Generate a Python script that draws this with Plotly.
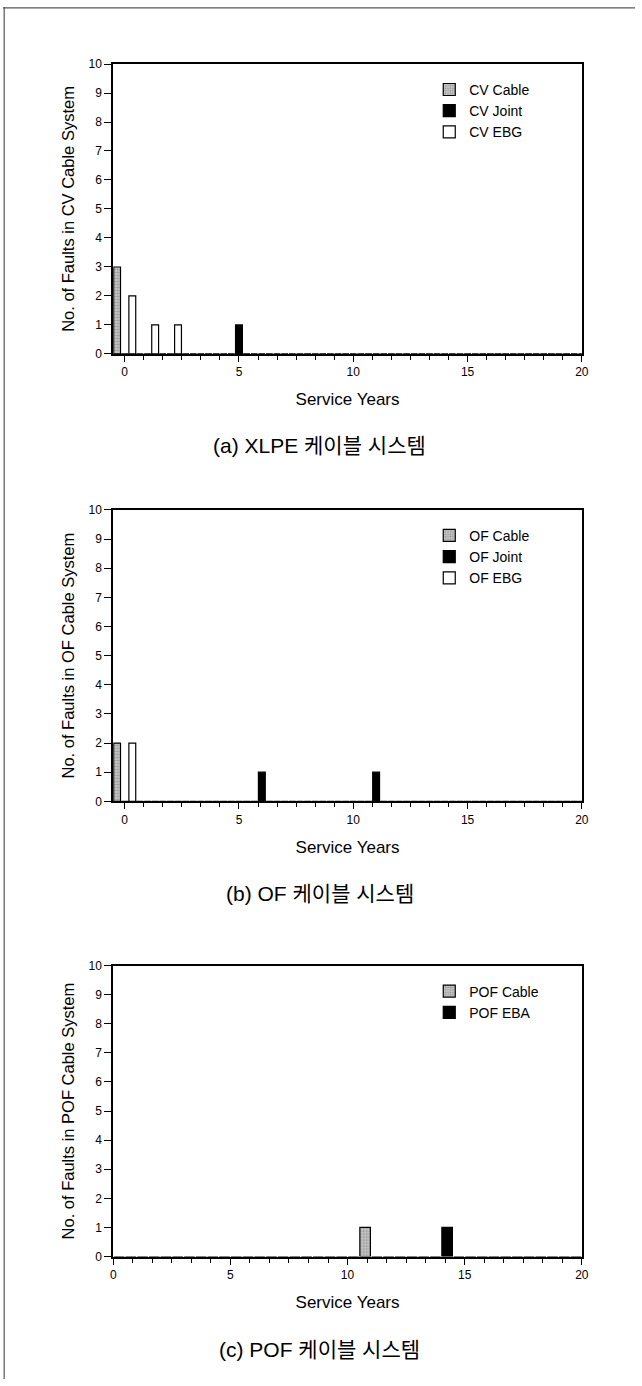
import plotly.graph_objects as go

# ---------------- data ----------------
years = list(range(0, 21))

cv_cable = [3, 0, 0, 0, 0, 0, 0, 0, 0, 0, 0, 0, 0, 0, 0, 0, 0, 0, 0, 0, 0]
cv_joint = [0, 0, 0, 0, 0, 1, 0, 0, 0, 0, 0, 0, 0, 0, 0, 0, 0, 0, 0, 0, 0]
cv_ebg = [2, 1, 1, 0, 0, 0, 0, 0, 0, 0, 0, 0, 0, 0, 0, 0, 0, 0, 0, 0, 0]

of_cable = [2, 0, 0, 0, 0, 0, 0, 0, 0, 0, 0, 0, 0, 0, 0, 0, 0, 0, 0, 0, 0]
of_joint = [0, 0, 0, 0, 0, 0, 1, 0, 0, 0, 0, 1, 0, 0, 0, 0, 0, 0, 0, 0, 0]
of_ebg = [2, 0, 0, 0, 0, 0, 0, 0, 0, 0, 0, 0, 0, 0, 0, 0, 0, 0, 0, 0, 0]

pof_cable = [0, 0, 0, 0, 0, 0, 0, 0, 0, 0, 0, 1, 0, 0, 0, 0, 0, 0, 0, 0, 0]
pof_eba = [0, 0, 0, 0, 0, 0, 0, 0, 0, 0, 0, 0, 0, 0, 1, 0, 0, 0, 0, 0, 0]

x_major_ticks = [0, 5, 10, 15, 20]
y_ticks = [0, 1, 2, 3, 4, 5, 6, 7, 8, 9, 10]

names_a = ["CV Cable", "CV Joint", "CV EBG"]
names_b = ["OF Cable", "OF Joint", "OF EBG"]
names_c = ["POF Cable", "POF EBA"]

ytitles = ["No. of Faults in CV Cable System",
           "No. of Faults in OF Cable System",
           "No. of Faults in POF Cable System"]
captions = ["(a) XLPE 케이블 시스템", "(b) OF 케이블 시스템", "(c) POF 케이블 시스템"]
xtitle = "Service Years"

# ---------------- layout helpers ----------------
W, H = 642, 1386
FONT = "Liberation Sans, Arial, Helvetica, sans-serif"
KFONT = "Liberation Sans, Noto Sans CJK KR, sans-serif"


def py(v):
    return 1 - v / H


x_dom = [112.0 / W, 588.0 / W]
panels = [  # (top px, bottom px)
    (57.6, 350.5),
    (508.1, 802.4),
    (968.4, 1262.3),
]
caption_y = [443.0, 895.5, 1356.0]
x_ranges = [[-0.5, 20], [-0.5, 20], [0, 20]]
minor_vals = [i * 5 / 6 for i in range(1, 24) if i % 6 != 0]

CABLE = dict(color="#c4c4c4", line=dict(color="black", width=1.2),
             pattern=dict(shape=".", fgcolor="#555555", bgcolor="#c8c8c8", size=3, solidity=0.35))
JOINT = dict(color="black", line=dict(color="black", width=1.2))
EBG = dict(color="white", line=dict(color="black", width=1.2))

fig = go.Figure()

series = [
    [(names_a[0], cv_cable, CABLE), (names_a[1], cv_joint, JOINT), (names_a[2], cv_ebg, EBG)],
    [(names_b[0], of_cable, CABLE), (names_b[1], of_joint, JOINT), (names_b[2], of_ebg, EBG)],
    [(names_c[0], pof_cable, CABLE), (names_c[1], pof_eba, JOINT)],
]

legend_keys = ["legend", "legend2", "legend3"]

for i, group in enumerate(series):
    xa = "x" if i == 0 else f"x{i+1}"
    ya = "y" if i == 0 else f"y{i+1}"
    for name, vals, mk in group:
        fig.add_trace(go.Bar(x=years, y=vals, name=name, marker=mk,
                             xaxis=xa, yaxis=ya, legend=legend_keys[i],
                             hoverinfo="x+y+name"))

layout = dict(
    width=W, height=H,
    margin=dict(l=0, r=0, t=0, b=0),
    paper_bgcolor="white", plot_bgcolor="white",
    barmode="group", bargap=0.0, bargroupgap=0.1,
    font=dict(family=FONT, color="black"),
    showlegend=True,
    annotations=[], shapes=[],
)

for i, (top, bot) in enumerate(panels):
    sfx = "" if i == 0 else str(i + 1)
    layout[f"xaxis{sfx}"] = dict(
        domain=x_dom, anchor=f"y{sfx}", range=x_ranges[i],
        tickmode="array", tickvals=x_major_ticks,
        ticks="outside", ticklen=6, tickwidth=1, tickcolor="black",
        showline=True, linecolor="black", linewidth=2, mirror=True,
        showgrid=False, zeroline=False,
        tickfont=dict(size=12, family=FONT),
        minor=dict(tickmode="array", tickvals=minor_vals, ticks="outside",
                   ticklen=4, tickwidth=1, tickcolor="black", showgrid=False),
        title=dict(text=xtitle, font=dict(size=17, family=FONT), standoff=15),
    )
    layout[f"yaxis{sfx}"] = dict(
        domain=[py(bot), py(top)], anchor=f"x{sfx}", range=[0, 10],
        tickmode="array", tickvals=y_ticks,
        ticks="outside", ticklen=7, tickwidth=1, tickcolor="black",
        showline=True, linecolor="black", linewidth=2, mirror=True,
        showgrid=False, zeroline=False,
        tickfont=dict(size=12, family=FONT),
        title=dict(text=ytitles[i], font=dict(size=16.5, family=FONT), standoff=10),
    )
    # overlay axis giving the minor ticks their inner half (crossing ticks)
    ov = str(4 + i)
    layout[f"xaxis{ov}"] = dict(
        overlaying=f"x{sfx}", anchor=f"y{sfx}", matches=f"x{sfx}",
        tickmode="array", tickvals=minor_vals, ticks="inside", ticklen=4,
        tickwidth=1, tickcolor="black", showticklabels=False,
        showline=False, showgrid=False, zeroline=False,
    )
    leg = legend_keys[i]
    layout[leg] = dict(
        x=433 / W, xanchor="left", y=py(top + 10), yanchor="top",
        bgcolor="rgba(0,0,0,0)", font=dict(size=14, family=FONT),
        tracegroupgap=0, itemwidth=30,
    )
    layout["annotations"].append(dict(
        text=captions[i], xref="paper", yref="paper", x=322 / W, y=py(caption_y[i]),
        xanchor="center", yanchor="middle", showarrow=False,
        font=dict(size=21, family=KFONT),
    ))

# page frame (top and left edges of the scanned page)
layout["shapes"] = [
    dict(type="line", xref="paper", yref="paper", x0=0, x1=1, y0=py(0.8), y1=py(0.8),
         line=dict(color="#555555", width=1.2)),
    dict(type="line", xref="paper", yref="paper", x0=1.2 / W, x1=1.2 / W, y0=0, y1=1,
         line=dict(color="#555555", width=1.2)),
]

fig.update_layout(**layout)
fig.write_html("out.html", config={"displayModeBar": False},
               post_script="document.body.style.margin='0';")
